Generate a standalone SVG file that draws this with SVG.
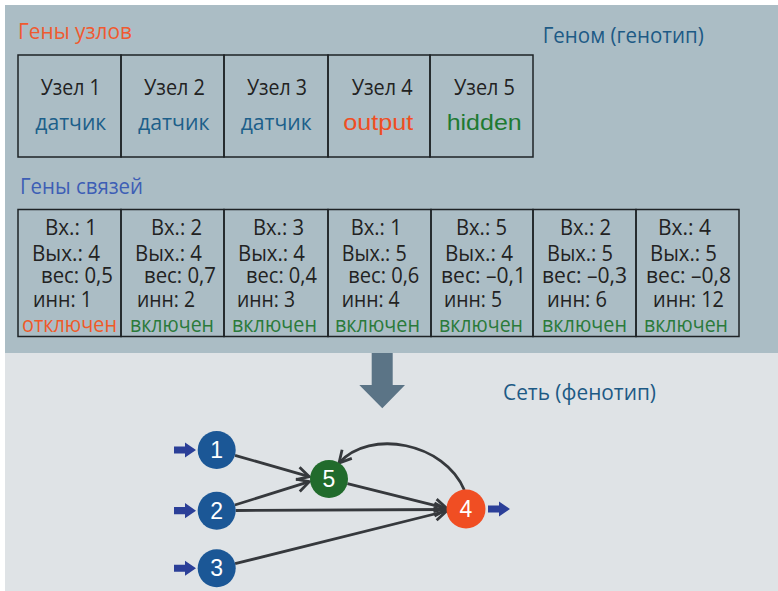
<svg xmlns="http://www.w3.org/2000/svg" width="778" height="591" viewBox="0 0 778 591">
<defs>
<style>
.t{font-family:"Open Sans","Liberation Sans",sans-serif;font-size:22px}
.blk{fill:#222}
.sens{fill:#1c5f8a}
.out{fill:#f04e23}
.hid{fill:#1e7a32}
.on{fill:#2a7a3a}
.off{fill:#f05a28}
.cell{fill:none;stroke:#1e2326;stroke-width:1.5}
.edge{fill:none;stroke:#36393d;stroke-width:2.8;marker-end:url(#chev)}
.num{font-family:"Liberation Sans",Arial,sans-serif;font-size:23px;fill:#fff;text-anchor:middle}
.io{fill:#2b3f98}
</style>
<marker id="chev" markerUnits="userSpaceOnUse" markerWidth="18" markerHeight="18" viewBox="-14 -9 18 18" refX="0" refY="0" orient="auto">
<path d="M-12,-6.5 L0,0 L-12,6.5" fill="none" stroke="#36393d" stroke-width="2.8" stroke-linejoin="miter"/>
</marker>
</defs>
<rect x="0" y="0" width="778" height="591" fill="#ffffff"/>
<rect x="5" y="5" width="773" height="348" fill="#abbdc5"/>
<rect x="5" y="353" width="773" height="238" fill="#dfe3e6"/>

<text class="t" x="18" y="39" textLength="114" lengthAdjust="spacingAndGlyphs" fill="#f05a30">Гены узлов</text>
<text class="t" x="542.7" y="42.5" textLength="161" lengthAdjust="spacingAndGlyphs" fill="#1d5a85">Геном (генотип)</text>
<text class="t" x="20" y="194" textLength="123" lengthAdjust="spacingAndGlyphs" fill="#3d5eb5">Гены связей</text>
<text class="t" x="503" y="400" textLength="153" lengthAdjust="spacingAndGlyphs" fill="#1d5a85">Сеть (фенотип)</text>

<g id="node-genes">
<g id="ng1"><rect class="cell" x="18" y="55" width="103" height="102"/>
<text class="t blk" x="40.7" y="95" textLength="60" lengthAdjust="spacingAndGlyphs">Узел 1</text>
<text class="t sens" x="35.3" y="129.5" textLength="71" lengthAdjust="spacingAndGlyphs">датчик</text></g>
<g id="ng2"><rect class="cell" x="121" y="55" width="103" height="102"/>
<text class="t blk" x="144" y="95" textLength="61" lengthAdjust="spacingAndGlyphs">Узел 2</text>
<text class="t sens" x="138" y="129.5" textLength="71.5" lengthAdjust="spacingAndGlyphs">датчик</text></g>
<g id="ng3"><rect class="cell" x="224" y="55" width="104" height="102"/>
<text class="t blk" x="247" y="95" textLength="60" lengthAdjust="spacingAndGlyphs">Узел 3</text>
<text class="t sens" x="240.7" y="129.5" textLength="71" lengthAdjust="spacingAndGlyphs">датчик</text></g>
<g id="ng4"><rect class="cell" x="328" y="55" width="102" height="102"/>
<text class="t blk" x="351.7" y="95" textLength="61" lengthAdjust="spacingAndGlyphs">Узел 4</text>
<text class="t out" x="343.3" y="129.5" textLength="70" lengthAdjust="spacingAndGlyphs" style="font-family:'Liberation Sans',Arial,sans-serif">output</text></g>
<g id="ng5"><rect class="cell" x="430" y="55" width="103" height="102"/>
<text class="t blk" x="454" y="95" textLength="61" lengthAdjust="spacingAndGlyphs">Узел 5</text>
<text class="t hid" x="446.7" y="130" textLength="75" lengthAdjust="spacingAndGlyphs" style="font-family:'Liberation Sans',Arial,sans-serif">hidden</text></g>
</g>

<g id="connection-genes">
<g id="cg1"><rect class="cell" x="18" y="209.5" width="103" height="127"/>
<text class="t blk" x="45" y="235" textLength="52" lengthAdjust="spacingAndGlyphs">Вх.: 1</text>
<text class="t blk" x="32" y="260.5" textLength="68" lengthAdjust="spacingAndGlyphs">Вых.: 4</text>
<text class="t blk" x="41" y="282.5" textLength="72" lengthAdjust="spacingAndGlyphs">вес: 0,5</text>
<text class="t blk" x="33" y="306.5" textLength="59" lengthAdjust="spacingAndGlyphs">инн: 1</text>
<text class="t off" x="22" y="331.5" textLength="95" lengthAdjust="spacingAndGlyphs">отключен</text></g>
<g id="cg2"><rect class="cell" x="121" y="209.5" width="103" height="127"/>
<text class="t blk" x="151" y="235" textLength="51" lengthAdjust="spacingAndGlyphs">Вх.: 2</text>
<text class="t blk" x="135" y="260.5" textLength="67" lengthAdjust="spacingAndGlyphs">Вых.: 4</text>
<text class="t blk" x="144" y="282.5" textLength="72" lengthAdjust="spacingAndGlyphs">вес: 0,7</text>
<text class="t blk" x="137" y="306.5" textLength="58" lengthAdjust="spacingAndGlyphs">инн: 2</text>
<text class="t on" x="130" y="331.5" textLength="84" lengthAdjust="spacingAndGlyphs">включен</text></g>
<g id="cg3"><rect class="cell" x="224" y="209.5" width="104" height="127"/>
<text class="t blk" x="253" y="235" textLength="51" lengthAdjust="spacingAndGlyphs">Вх.: 3</text>
<text class="t blk" x="238" y="260.5" textLength="67" lengthAdjust="spacingAndGlyphs">Вых.: 4</text>
<text class="t blk" x="246" y="282.5" textLength="71" lengthAdjust="spacingAndGlyphs">вес: 0,4</text>
<text class="t blk" x="237" y="306.5" textLength="58" lengthAdjust="spacingAndGlyphs">инн: 3</text>
<text class="t on" x="232" y="331.5" textLength="85" lengthAdjust="spacingAndGlyphs">включен</text></g>
<g id="cg4"><rect class="cell" x="328" y="209.5" width="103" height="127"/>
<text class="t blk" x="350.7" y="235" textLength="51" lengthAdjust="spacingAndGlyphs">Вх.: 1</text>
<text class="t blk" x="341.7" y="260.5" textLength="65" lengthAdjust="spacingAndGlyphs">Вых.: 5</text>
<text class="t blk" x="348.3" y="282.5" textLength="71" lengthAdjust="spacingAndGlyphs">вес: 0,6</text>
<text class="t blk" x="341.7" y="306.5" textLength="58" lengthAdjust="spacingAndGlyphs">инн: 4</text>
<text class="t on" x="335" y="331.5" textLength="85" lengthAdjust="spacingAndGlyphs">включен</text></g>
<g id="cg5"><rect class="cell" x="431" y="209.5" width="102" height="127"/>
<text class="t blk" x="456" y="235" textLength="51" lengthAdjust="spacingAndGlyphs">Вх.: 5</text>
<text class="t blk" x="445" y="260.5" textLength="68" lengthAdjust="spacingAndGlyphs">Вых.: 4</text>
<text class="t blk" x="441" y="282.5" textLength="85" lengthAdjust="spacingAndGlyphs">вес: –0,1</text>
<text class="t blk" x="444" y="306.5" textLength="58" lengthAdjust="spacingAndGlyphs">инн: 5</text>
<text class="t on" x="439" y="331.5" textLength="84" lengthAdjust="spacingAndGlyphs">включен</text></g>
<g id="cg6"><rect class="cell" x="533" y="209.5" width="103" height="127"/>
<text class="t blk" x="560" y="235" textLength="51" lengthAdjust="spacingAndGlyphs">Вх.: 2</text>
<text class="t blk" x="547" y="260.5" textLength="66" lengthAdjust="spacingAndGlyphs">Вых.: 5</text>
<text class="t blk" x="542" y="282.5" textLength="85" lengthAdjust="spacingAndGlyphs">вес: –0,3</text>
<text class="t blk" x="547" y="306.5" textLength="60" lengthAdjust="spacingAndGlyphs">инн: 6</text>
<text class="t on" x="542" y="331.5" textLength="85" lengthAdjust="spacingAndGlyphs">включен</text></g>
<g id="cg7"><rect class="cell" x="636" y="209.5" width="103" height="127"/>
<text class="t blk" x="658" y="235" textLength="53" lengthAdjust="spacingAndGlyphs">Вх.: 4</text>
<text class="t blk" x="650" y="260.5" textLength="67" lengthAdjust="spacingAndGlyphs">Вых.: 5</text>
<text class="t blk" x="646" y="282.5" textLength="85" lengthAdjust="spacingAndGlyphs">вес: –0,8</text>
<text class="t blk" x="653" y="306.5" textLength="71" lengthAdjust="spacingAndGlyphs">инн: 12</text>
<text class="t on" x="644" y="331.5" textLength="84" lengthAdjust="spacingAndGlyphs">включен</text></g>
</g>

<polygon id="big-arrow" points="371.7,353 392.7,353 392.7,385 405,385 382.3,408.3 359.3,385 371.7,385" fill="#5b7486"/>

<g id="connectors">
<line class="edge" x1="235" y1="455.3" x2="309.3" y2="476.7"/>
<line class="edge" x1="234.8" y1="505" x2="309.3" y2="481.7"/>
<line class="edge" x1="235.7" y1="510.5" x2="446.5" y2="509.5"/>
<line class="edge" x1="235.1" y1="563.7" x2="446.7" y2="511"/>
<line class="edge" x1="347.4" y1="483.6" x2="446.7" y2="508.3"/>
<path class="edge" d="M464.3,490 C445,443 370,428 339,463"/>
<polygon class="io" points="174,446.5 185,446.5 185,442.5 196,450 185,457.5 185,453.5 174,453.5"/>
<polygon class="io" points="174,507 185,507 185,503 196,510.7 185,518.2 185,514.2 174,514.2"/>
<polygon class="io" points="174,564.8 185,564.8 185,560.8 196,568.3 185,575.8 185,571.8 174,571.8"/>
<polygon class="io" points="488,505.5 499,505.5 499,501.5 510,509 499,516.5 499,512.5 488,512.5"/>
</g>

<g id="n1"><circle cx="216.7" cy="450" r="19" fill="#1b5796"/><text class="num" x="216.7" y="458">1</text></g>
<g id="n2"><circle cx="216.7" cy="510.7" r="19" fill="#1b5796"/><text class="num" x="216.7" y="518.7">2</text></g>
<g id="n3"><circle cx="216.7" cy="568.3" r="19" fill="#1b5796"/><text class="num" x="216.7" y="576.3">3</text></g>
<g id="n5"><circle cx="329" cy="479" r="19" fill="#216b2c"/><text class="num" x="329" y="487">5</text></g>
<g id="n4"><circle cx="466" cy="509" r="19.5" fill="#f04e23"/><text class="num" x="466" y="517">4</text></g>
</svg>
